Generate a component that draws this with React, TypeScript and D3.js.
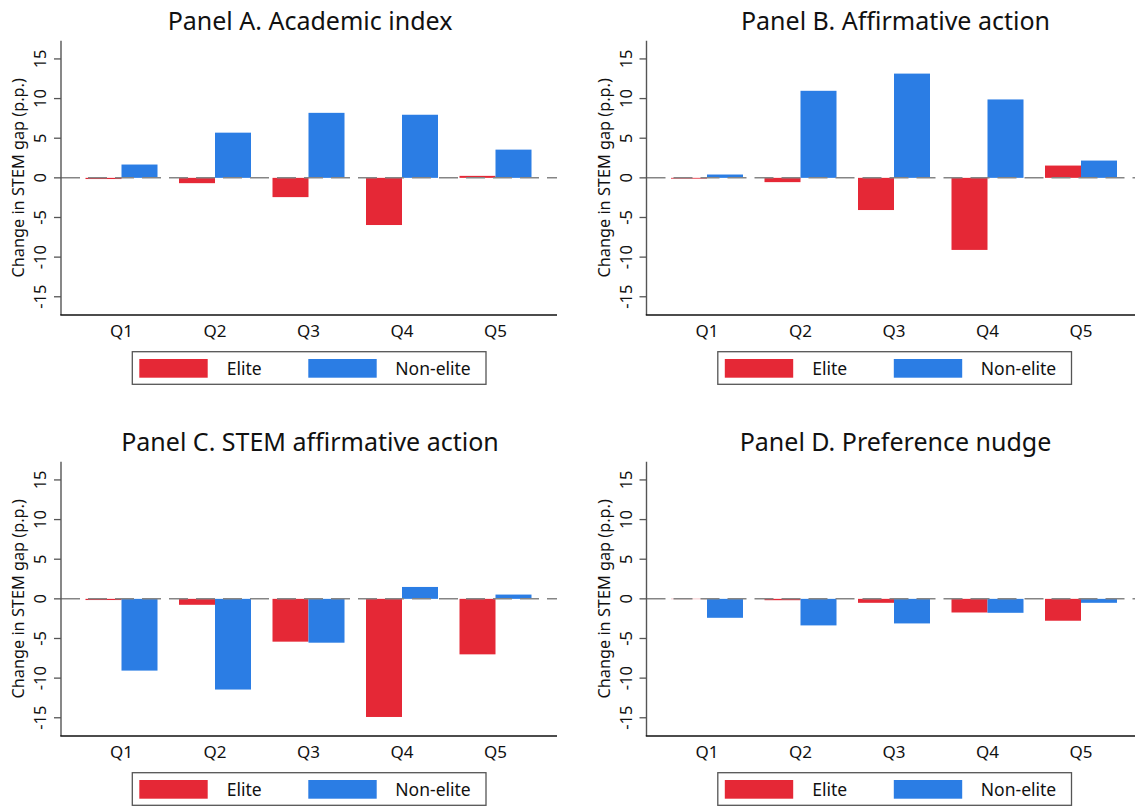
import React from "react";
import * as d3 from "d3";

// quintile categories
const quintiles = ["Q1", "Q2", "Q3", "Q4", "Q5"];

// panel titles
const titles = [
  "Panel A. Academic index",
  "Panel B. Affirmative action",
  "Panel C. STEM affirmative action",
  "Panel D. Preference nudge",
];

// change in STEM gap (p.p.)
const eliteA = [-0.15, -0.67, -2.43, -5.95, 0.25];
const nonEliteA = [1.68, 5.7, 8.2, 7.96, 3.56];
const eliteB = [-0.1, -0.54, -4.06, -9.09, 1.55];
const nonEliteB = [0.42, 10.98, 13.15, 9.89, 2.18];
const eliteC = [-0.15, -0.75, -5.4, -14.9, -7.0];
const nonEliteC = [-9.05, -11.44, -5.53, 1.5, 0.54];
const eliteD = [-0.03, -0.17, -0.5, -1.72, -2.76];
const nonEliteD = [-2.39, -3.35, -3.1, -1.76, -0.5];

const yTicks = [-15, -10, -5, 0, 5, 10, 15];
const legendLabels = ["Elite", "Non-elite"];

const RED = "#e52836";
const BLUE = "#2b7de4";
const FONT = "'Noto Sans', 'DejaVu Sans', sans-serif";

const panels = [
  { title: titles[0], elite: eliteA, nonElite: nonEliteA, dx: 0, dy: 0 },
  { title: titles[1], elite: eliteB, nonElite: nonEliteB, dx: 585.5, dy: 0 },
  { title: titles[2], elite: eliteC, nonElite: nonEliteC, dx: 0, dy: 421 },
  { title: titles[3], elite: eliteD, nonElite: nonEliteD, dx: 585.5, dy: 421 },
];

// layout of one panel (local coords)
const axisX = 61;
const plotRight = 557;
const plotTop = 40.7;
const plotBottom = 315;
const centerX = 310;
const barW = 36;

const y = d3.scaleLinear().domain([-17.3, 17.3]).range([plotBottom, plotTop]);
const x = d3.scalePoint<string>().domain(quintiles).range([121.5, 495.5]);

const Panel = ({ title, elite, nonElite, dx, dy }) => {
  const series = [
    { values: elite, color: RED, offset: -barW },
    { values: nonElite, color: BLUE, offset: 0 },
  ];
  return (
    <g transform={`translate(${dx},${dy})`}>
      <text x={centerX} y={29.5} textAnchor="middle" fontSize={25} fill="#111">
        {title}
      </text>

      {/* bars */}
      {series.map((s, si) =>
        s.values.map((v, i) => (
          <rect
            key={`${si}-${i}`}
            x={x(quintiles[i]) + s.offset}
            y={Math.min(y(v), y(0))}
            width={barW}
            height={Math.abs(y(v) - y(0))}
            fill={s.color}
          />
        ))
      )}

      {/* zero line */}
      <line
        x1={axisX}
        x2={plotRight}
        y1={y(0)}
        y2={y(0)}
        stroke="#858585"
        strokeWidth={1.5}
        strokeDasharray="19,8"
      />

      {/* y axis */}
      <line x1={axisX} x2={axisX} y1={plotTop} y2={plotBottom} stroke="#555" strokeWidth={1.4} />
      {yTicks.map((t) => (
        <g key={t} transform={`translate(${axisX},${y(t)})`}>
          <line x1={-7} x2={0} stroke="#555" strokeWidth={1.3} />
          <text transform="translate(-15,0) rotate(-90)" textAnchor="middle" fontSize={16.5} fill="#111">
            {t}
          </text>
        </g>
      ))}
      <text
        transform={`translate(${axisX - 37},${(plotTop + plotBottom) / 2}) rotate(-90)`}
        textAnchor="middle"
        fontSize={16.3}
        fill="#111"
      >
        Change in STEM gap (p.p.)
      </text>

      {/* x axis */}
      <line x1={axisX - 0.7} x2={plotRight} y1={plotBottom} y2={plotBottom} stroke="#111" strokeWidth={1.4} />
      {quintiles.map((q) => (
        <text key={q} x={x(q)} y={336.5} textAnchor="middle" fontSize={17} fill="#111">
          {q}
        </text>
      ))}

      {/* legend */}
      <rect x={132.3} y={351.7} width={353.7} height={32.6} fill="none" stroke="#555" strokeWidth={1.3} />
      <rect x={139.3} y={359} width={68.4} height={18.7} fill={RED} />
      <text x={226.7} y={375} fontSize={17.5} fill="#111">
        {legendLabels[0]}
      </text>
      <rect x={308.3} y={359} width={68.4} height={18.7} fill={BLUE} />
      <text x={395.3} y={375} fontSize={17.5} fill="#111">
        {legendLabels[1]}
      </text>
    </g>
  );
};

export default function App() {
  return (
    <svg
      width={1135}
      height={808}
      style={{ position: "absolute", left: 0, top: 0, display: "block", background: "#fff" }}
      fontFamily={FONT}
    >
      <rect width={1135} height={808} fill="#fff" />
      {panels.map((p) => (
        <Panel key={p.title} {...p} />
      ))}
    </svg>
  );
}
